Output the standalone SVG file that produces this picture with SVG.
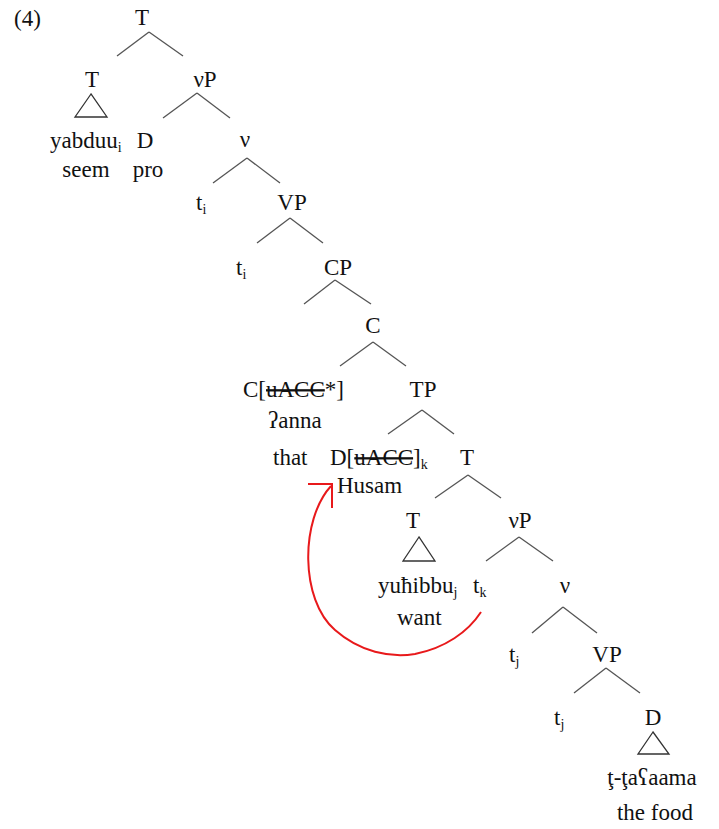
<svg xmlns="http://www.w3.org/2000/svg" width="719" height="829" viewBox="0 0 719 829">
<style>
text{font-family:"Liberation Serif","Times New Roman",serif;font-size:23px;fill:#111}
.m{text-anchor:middle}
.sub{font-size:14px}
.s{text-decoration:line-through}
#edges line{stroke:#555;stroke-width:1.3}
.tri{fill:none;stroke:#333;stroke-width:1.3}
.mv{fill:none;stroke:#e8191b;stroke-width:2}
</style>
<rect width="719" height="829" fill="#fff"/>
<text x="14" y="26">(4)</text>
<g id="edges">
<line x1="149" y1="32" x2="117" y2="56"/><line x1="149" y1="32" x2="183" y2="56"/>
<line x1="197" y1="93" x2="163" y2="118"/><line x1="197" y1="93" x2="230" y2="118"/>
<line x1="247" y1="158" x2="213" y2="183"/><line x1="247" y1="158" x2="280" y2="183"/>
<line x1="290" y1="218" x2="257" y2="243"/><line x1="290" y1="218" x2="323" y2="243"/>
<line x1="335" y1="280" x2="304" y2="304"/><line x1="335" y1="280" x2="371" y2="304"/>
<line x1="373" y1="342" x2="340" y2="366"/><line x1="373" y1="342" x2="406" y2="366"/>
<line x1="422" y1="410" x2="388" y2="434"/><line x1="422" y1="410" x2="454" y2="434"/>
<line x1="468" y1="475" x2="435" y2="498"/><line x1="468" y1="475" x2="501" y2="498"/>
<line x1="519" y1="537" x2="486" y2="561"/><line x1="519" y1="537" x2="553" y2="561"/>
<line x1="563" y1="607" x2="532" y2="633"/><line x1="563" y1="607" x2="597" y2="633"/>
<line x1="606" y1="668" x2="574" y2="693"/><line x1="606" y1="668" x2="640" y2="693"/>
<path class="mv" d="M331,486 C300,520 300,600 335,630 C360,652 390,658 415,654 C445,648 468,632 481,612"/>
<polyline class="mv" points="308,484 332,484 332,508"/>
</g>
<g id="n_T_root"><text class="m" x="142" y="25">T</text></g>
<g id="n_T1"><text class="m" x="92" y="87">T</text><polygon class="tri" points="91,94 75,117 107,117"/></g>
<g id="n_yabduu"><text x="50" y="148">yabduu<tspan class="sub" dy="4">i</tspan></text><text class="m" x="86" y="177">seem</text></g>
<g id="n_vP1"><text class="m" x="205" y="87">νP</text></g>
<g id="n_D_pro"><text class="m" x="145" y="148">D</text><text class="m" x="148" y="177">pro</text></g>
<g id="n_v1"><text class="m" x="245" y="147">ν</text></g>
<g id="n_ti1"><text x="196" y="210">t<tspan class="sub" dy="4">i</tspan></text></g>
<g id="n_VP1"><text class="m" x="292" y="210">VP</text></g>
<g id="n_ti2"><text x="236" y="275">t<tspan class="sub" dy="4">i</tspan></text></g>
<g id="n_CP"><text class="m" x="338" y="275">CP</text></g>
<g id="n_C"><text class="m" x="373" y="333">C</text></g>
<g id="n_Chead"><text x="243" y="397">C[<tspan class="s">uACC</tspan>*]</text><text x="268" y="428">ʔanna</text><text x="273" y="465">that</text></g>
<g id="n_TP"><text class="m" x="423" y="397">TP</text></g>
<g id="n_D_Husam"><text x="330" y="465">D[<tspan class="s">uACC</tspan>]<tspan class="sub" dy="4">k</tspan></text><text x="337" y="493">Husam</text></g>
<g id="n_T2"><text class="m" x="467" y="465">T</text></g>
<g id="n_T3"><text class="m" x="413" y="528">T</text><polygon class="tri" points="419,537 403,561 435,561"/></g>
<g id="n_yuhibbu"><text x="378" y="593">yuħibbu<tspan class="sub" dy="4">j</tspan></text><text x="397" y="625">want</text></g>
<g id="n_vP2"><text class="m" x="520" y="528">νP</text></g>
<g id="n_tk"><text x="473" y="593">t<tspan class="sub" dy="4">k</tspan></text></g>
<g id="n_v2"><text class="m" x="565" y="593">ν</text></g>
<g id="n_tj1"><text x="509" y="662">t<tspan class="sub" dy="4">j</tspan></text></g>
<g id="n_VP2"><text class="m" x="607" y="662">VP</text></g>
<g id="n_tj2"><text x="554" y="725">t<tspan class="sub" dy="4">j</tspan></text></g>
<g id="n_D2"><text class="m" x="653" y="725">D</text><polygon class="tri" points="653,732 638,754 669,754"/></g>
<g id="n_food"><text class="m" x="652" y="785">ţ-ţaʕaama</text><text class="m" x="655" y="820">the food</text></g>
</svg>
